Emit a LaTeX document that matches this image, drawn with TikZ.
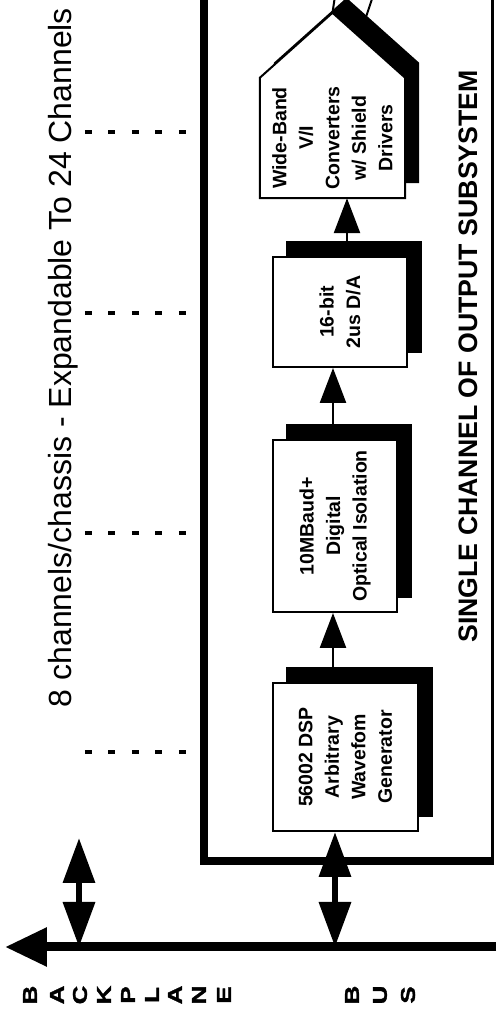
\documentclass[tikz,border=0pt]{standalone}
\usepackage{fontspec}
\setmainfont{Liberation Sans}
\newfontfamily\busfont[FakeStretch=1.3,FakeBold=1.5]{Liberation Sans}
\usetikzlibrary{calc}
\usetikzlibrary{arrows.meta}
\usetikzlibrary{backgrounds}

\tikzset{
    chanbox/.style={draw, fill=white, line width=2pt, inner sep=0pt, align=center,
        font=\fontsize{19.5}{26.5}\selectfont\bfseries},
    chantext/.style={inner sep=0pt, align=center, font=\fontsize{19.5}{26.5}\selectfont\bfseries},
    flow/.style={line width=2.5pt, >={Triangle[length=35pt,width=26pt]}, ->},
    biarrow/.style={line width=6.5pt, >={Triangle[length=45pt,width=31pt]}, <->},
    stub/.style={line width=3.5pt, dash pattern=on 7pt off 16.5pt},
    busletter/.style={inner sep=0pt, font=\busfont\bfseries\fontsize{20}{20}\selectfont},
}

\begin{document}
\begin{tikzpicture}[x=1pt, y=1pt, rotate=90, transform shape]

    \useasboundingbox (0,0) rectangle (1016,496);

    \node[chanbox, minimum width=148pt, minimum height=145pt] (gen) at (259,150.5)
        {56002 DSP\\Arbitrary\\Wavefom\\Generator};
    \node[chanbox, minimum width=172pt, minimum height=124pt] (iso) at (490,161)
        {10MBaud+\\Digital\\Optical Isolation};
    \node[chanbox, minimum width=110pt, minimum height=134pt] (dac) at (704,156)
        {16-bit\\2us D/A};
    \node[chantext, minimum width=120pt, minimum height=145pt] (vic) at (878,163.5)
        {Wide-Band\\V/I\\Converters\\w/ Shield\\Drivers};
    \coordinate (apex) at ($(vic.east)+(65,0)$);

    \begin{scope}[on background layer]
        \foreach \b in {gen,iso,dac}
            \fill ($(\b.south west)+(15,-14)$) rectangle ($(\b.north east)+(15,-14)$);
        \fill ($(vic.south west)+(15,-14)$) -- ($(vic.north west)+(15,-14)$)
            -- ($(vic.north east)+(15,-14)$) -- ($(apex)+(15,-14)$)
            -- ($(vic.south east)+(15,-14)$) -- cycle;
        \draw[fill=white, line width=2pt] (vic.south west) -- (vic.north west)
            -- (vic.north east) -- (apex) -- (vic.south east) -- cycle;
    \end{scope}

    \draw[line width=2pt] (apex) -- (1020,161);
    \draw[line width=2pt] (996,131) -- (1020,123);

    \draw[flow] ($(gen.east)+(0,12.5)$) -- ($(iso.west)+(0,2)$);
    \draw[flow] ($(iso.east)+(0,2)$) -- ($(dac.west)+(0,7)$);
    \draw[flow] ($(dac.east)+(0,-7)$) -- ($(vic.west)+(0,-14.5)$);

    \draw[line width=8.5pt] (1020,292) -- (155,292) -- (155,2);
    \draw[line width=2.5pt] (155,3.5) -- (1020,3.5);

    \foreach \u in {264,483,703,884}
        \draw[stub] (\u,411) -- (\u,306);

    \coordinate (B0) at (69,0);
    \coordinate (B1) at (69,491);
    \draw[line width=9pt, -{Triangle[length=42pt,width=37pt]}] (B0) -- (B1);

    \coordinate (tapL) at (69,417);
    \coordinate (tapR) at (69,161);
    \coordinate (upL) at (178,417);
    \draw[biarrow] (tapL) -- (upL);
    \draw[biarrow] (tapR) -- ($(gen.west)+(0,10.5)$);

    \node[anchor=base, inner sep=0pt, font=\fontsize{32}{36}\selectfont] (ttl) at (658.5,424)
        {8 channels/chassis - Expandable To 24 Channels};
    \node[anchor=base, inner sep=0pt, font=\fontsize{26.7}{30}\selectfont\bfseries] (sub) at (659.5,19)
        {SINGLE CHANNEL OF OUTPUT SUBSYSTEM};

    \foreach [count=\i] \l/\p in {B/466,A/439,C/416,K/392,P/368,L/344,A/321,N/297,E/272,B/144,U/116,S/88}
        \node[busletter] (bl\i) at (21,\p) {\l};

\end{tikzpicture}
\end{document}
